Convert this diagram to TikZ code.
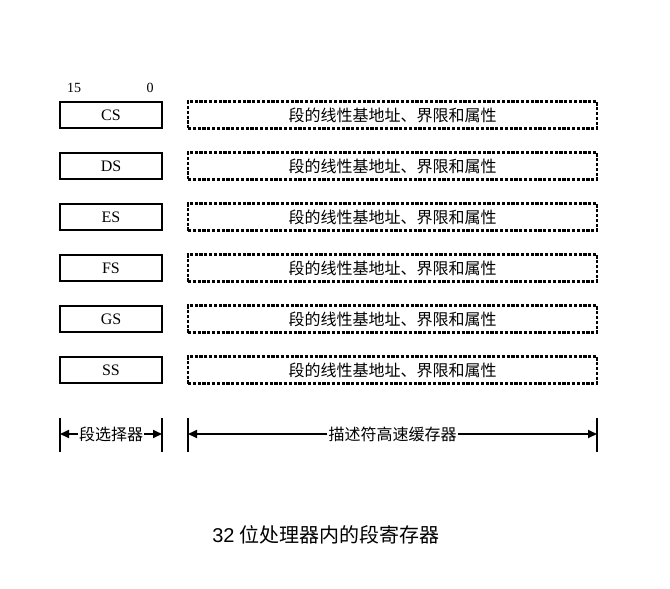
\documentclass[tikz,border=0pt]{standalone}
\usepackage{fontspec}
\setmainfont{Liberation Serif}
\newfontfamily\cjk{Noto Sans CJK SC}
\newfontfamily\capsans{Liberation Sans}
\usetikzlibrary{arrows.meta}
\begin{document}
\begin{tikzpicture}[x=1pt,y=-1pt,
  regbox/.style={draw,line width=2.2pt,minimum width=102pt,minimum height=26pt,inner sep=0pt,font=\fontsize{16}{16}\selectfont},
  cachebox/.style={draw,line width=2.2pt,dash pattern=on 3.2pt off 1.6pt,minimum width=409pt,minimum height=27pt,inner sep=0pt,font=\cjk\fontsize{16}{16}\selectfont},
  bar/.style={line width=1.8pt},
  dimarrow/.style={line width=1.8pt,-{Triangle[length=9pt,width=8pt]}},
  dimtext/.style={fill=white,inner sep=1pt,font=\cjk\fontsize{16}{16}\selectfont},
  bitlab/.style={font=\fontsize{14}{14}\selectfont,inner sep=0pt}]
\useasboundingbox (0,0) rectangle (670,589);
\node[bitlab] (b15) at (74,88) {15};
\node[bitlab] (b0) at (150,88) {0};
\foreach \nm/\yy in {CS/115,DS/166,ES/217,FS/268,GS/319,SS/370}{
  \node[regbox] (r\nm) at (111,\yy) {\nm};
  \node[cachebox] (c\nm) at (392.5,\yy) {段的线性基地址、界限和属性};
}
% bars
\coordinate (s1t) at (60,418); \coordinate (s1b) at (60,452);
\coordinate (s2t) at (162,418); \coordinate (s2b) at (162,452);
\coordinate (d1t) at (188,418); \coordinate (d1b) at (188,452);
\coordinate (d2t) at (597,418); \coordinate (d2b) at (597,452);
\draw[bar] (s1t) -- (s1b);
\draw[bar] (s2t) -- (s2b);
\draw[bar] (d1t) -- (d1b);
\draw[bar] (d2t) -- (d2b);
\coordinate (s1m) at (60,434); \coordinate (s2m) at (162,434);
\coordinate (d1m) at (188,434); \coordinate (d2m) at (597,434);
\node[dimtext] (sel) at (111,434) {段选择器};
\node[dimtext] (desc) at (392.5,434) {描述符高速缓存器};
\draw[dimarrow] (sel.west) -- (s1m);
\draw[dimarrow] (sel.east) -- (s2m);
\draw[dimarrow] (desc.west) -- (d1m);
\draw[dimarrow] (desc.east) -- (d2m);
\node[font=\fontsize{20}{20}\selectfont] (cap) at (326,535) {{\capsans 32} \cjk 位处理器内的段寄存器};
\end{tikzpicture}
\end{document}
